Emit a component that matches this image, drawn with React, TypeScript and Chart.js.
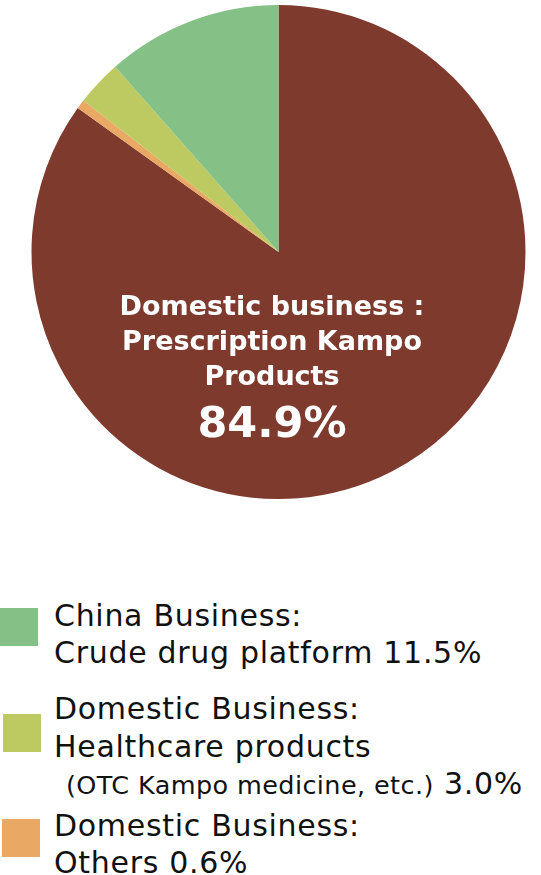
import React, { useEffect, useRef } from "react";
import { Chart, registerables } from "chart.js";

Chart.register(...registerables);

const categories = [
  "Domestic business : Prescription Kampo Products",
  "Domestic Business: Others",
  "Domestic Business: Healthcare products (OTC Kampo medicine, etc.)",
  "China Business: Crude drug platform",
];
const shares = [84.9, 0.6, 3.0, 11.5];
const colors = ["#7F3A2E", "#E9A863", "#BDCA62", "#85C187"];
const centerLines = ["Domestic business :", "Prescription Kampo", "Products"];
const centerValue = "84.9%";

const FONT = "'DejaVu Sans', Verdana, sans-serif";

const centerLabel = {
  id: "centerLabel",
  afterDraw(chart: any) {
    const ctx = chart.ctx;
    ctx.save();
    ctx.fillStyle = "#ffffff";
    ctx.textAlign = "center";
    ctx.textBaseline = "alphabetic";
    ctx.font = `bold 27px ${FONT}`;
    const cx = 272;
    const base = [315, 350, 385];
    centerLines.forEach((t, i) => ctx.fillText(t, cx, base[i]));
    ctx.font = `bold 43px ${FONT}`;
    ctx.fillText(centerValue, cx, 437);
    ctx.restore();
  },
};

type LegendLine = { text: string; small?: string; baseline: number; size: number; left: number };

const legendLines: LegendLine[] = [
  { text: "China Business:", baseline: 626, size: 30, left: 54 },
  { text: "Crude drug platform 11.5%", baseline: 663, size: 30, left: 54 },
  { text: "Domestic Business:", baseline: 719, size: 30, left: 54 },
  { text: "Healthcare products", baseline: 757, size: 30, left: 54 },
  { small: "(OTC Kampo medicine, etc.)", text: " 3.0%", baseline: 794, size: 30, left: 66 },
  { text: "Domestic Business:", baseline: 836, size: 30, left: 54 },
  { text: "Others 0.6%", baseline: 873, size: 30, left: 54 },
];

const legendBoxes = [
  { color: colors[3], x: 0, y: 608 },
  { color: colors[2], x: 3, y: 714 },
  { color: colors[1], x: 2, y: 819 },
];

export default function App() {
  const ref = useRef<HTMLCanvasElement>(null);
  useEffect(() => {
    if (!ref.current) return;
    const chart = new Chart(ref.current, {
      type: "pie",
      data: {
        labels: categories,
        datasets: [
          {
            data: shares,
            backgroundColor: colors,
            borderWidth: 0,
          },
        ],
      },
      options: {
        responsive: false,
        animation: false,
        layout: { padding: { top: 5, bottom: 5, left: 31.5, right: 15.5 } },
        plugins: {
          legend: { display: false },
          tooltip: { enabled: false },
        },
      },
      plugins: [centerLabel],
    });
    return () => chart.destroy();
  }, []);

  return (
    <div
      style={{
        position: "absolute",
        left: 0,
        top: 0,
        width: 541,
        height: 875,
        background: "#ffffff",
        overflow: "hidden",
        fontFamily: FONT,
        color: "#111111",
      }}
    >
      <canvas ref={ref} width={541} height={504} style={{ display: "block" }} />
      {legendBoxes.map((b, i) => (
        <div
          key={"b" + i}
          style={{
            position: "absolute",
            left: b.x,
            top: b.y,
            width: 38,
            height: 38,
            background: b.color,
          }}
        />
      ))}
      {legendLines.map((l, i) => (
        <div
          key={"l" + i}
          style={{
            position: "absolute",
            left: l.left,
            top: l.baseline - Math.round(l.size * 0.846),
            fontSize: l.size,
            lineHeight: l.size + "px",
            letterSpacing: "0.7px",
            whiteSpace: "nowrap",
          }}
        >
          {l.small ? <span style={{ fontSize: 25.5, letterSpacing: "0.4px" }}>{l.small}</span> : null}
          {l.text}
        </div>
      ))}
    </div>
  );
}
